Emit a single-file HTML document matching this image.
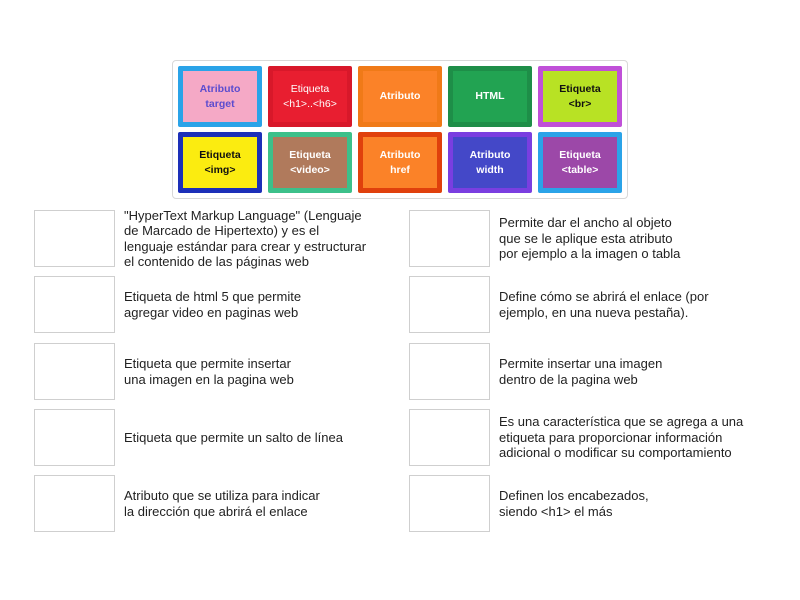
<!DOCTYPE html>
<html><head><meta charset="utf-8"><style>
body{margin:0;width:800px;height:600px;background:#fff;position:relative;font-family:"Liberation Sans",sans-serif;overflow:hidden}
.cont{position:absolute;left:172px;top:60px;width:454px;height:137px;border:1px solid #d8d8d8;border-radius:4px;background:#fff}
.t{position:absolute;width:84px;height:61px;box-sizing:border-box;border:5px solid;display:flex;align-items:center;justify-content:center;text-align:center;font-size:10.5px;font-weight:bold;line-height:15px;border-radius:2px}
.b{position:absolute;width:81px;height:57px;border:1px solid #cfcfcf;box-sizing:border-box}
.x{position:absolute;height:57px;display:flex;align-items:center;font-size:13px;line-height:15.5px;color:#222;width:290px;white-space:nowrap}
</style></head><body>
<div class="cont"></div>
<div class="t" style="left:178px;top:66px;border-color:#2aa3e8;background:#f5a9c6;color:#5b4ccf">Atributo<br>target</div>
<div class="t" style="left:268px;top:66px;border-color:#d8182a;background:#e81e30;color:#fff;font-weight:normal">Etiqueta<br>&lt;h1&gt;..&lt;h6&gt;</div>
<div class="t" style="left:358px;top:66px;border-color:#f07a18;background:#fb8228;color:#fff">Atributo</div>
<div class="t" style="left:448px;top:66px;border-color:#1e8e48;background:#22a352;color:#fff">HTML</div>
<div class="t" style="left:538px;top:66px;border-color:#c050d8;background:#b8e224;color:#111">Etiqueta<br>&lt;br&gt;</div>
<div class="t" style="left:178px;top:132px;border-color:#1c2fb8;background:#fbec10;color:#111">Etiqueta<br>&lt;img&gt;</div>
<div class="t" style="left:268px;top:132px;border-color:#3cc08a;background:#b07a5c;color:#fff">Etiqueta<br>&lt;video&gt;</div>
<div class="t" style="left:358px;top:132px;border-color:#e0400c;background:#fb8228;color:#fff">Atributo<br>href</div>
<div class="t" style="left:448px;top:132px;border-color:#7a3ee0;background:#4448c8;color:#fff">Atributo<br>width</div>
<div class="t" style="left:538px;top:132px;border-color:#2aa3e8;background:#9c48a8;color:#fff">Etiqueta<br>&lt;table&gt;</div>

<div class="b" style="left:34px;top:210px"></div>
<div class="x" style="left:124px;top:210px">"HyperText Markup Language" (Lenguaje<br>de Marcado de Hipertexto) y es el<br>lenguaje estándar para crear y estructurar<br>el contenido de las páginas web</div>
<div class="b" style="left:34px;top:276px"></div>
<div class="x" style="left:124px;top:276px">Etiqueta de html 5 que permite<br>agregar video en paginas web</div>
<div class="b" style="left:34px;top:343px"></div>
<div class="x" style="left:124px;top:343px">Etiqueta que permite insertar<br>una imagen en la pagina web</div>
<div class="b" style="left:34px;top:409px"></div>
<div class="x" style="left:124px;top:409px">Etiqueta que permite un salto de línea</div>
<div class="b" style="left:34px;top:475px"></div>
<div class="x" style="left:124px;top:475px">Atributo que se utiliza para indicar<br>la dirección que abrirá el enlace</div>

<div class="b" style="left:409px;top:210px"></div>
<div class="x" style="left:499px;top:210px">Permite dar el ancho al objeto<br>que se le aplique esta atributo<br>por ejemplo a la imagen o tabla</div>
<div class="b" style="left:409px;top:276px"></div>
<div class="x" style="left:499px;top:276px">Define cómo se abrirá el enlace (por<br>ejemplo, en una nueva pestaña).</div>
<div class="b" style="left:409px;top:343px"></div>
<div class="x" style="left:499px;top:343px">Permite insertar una imagen<br>dentro de la pagina web</div>
<div class="b" style="left:409px;top:409px"></div>
<div class="x" style="left:499px;top:409px">Es una característica que se agrega a una<br>etiqueta para proporcionar información<br>adicional o modificar su comportamiento</div>
<div class="b" style="left:409px;top:475px"></div>
<div class="x" style="left:499px;top:475px">Definen los encabezados,<br>siendo &lt;h1&gt; el más</div>
</body></html>
